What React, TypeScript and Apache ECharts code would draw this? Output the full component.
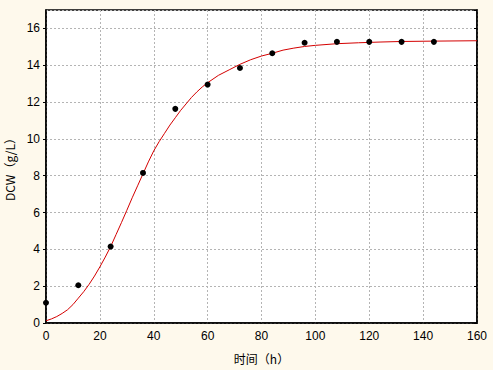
import React, { useEffect, useRef } from "react";
import * as echarts from "echarts";

const timeH = [0, 12, 24, 36, 48, 60, 72, 84, 96, 108, 120, 132, 144];
const dcw = [1.1, 2.05, 4.15, 8.15, 11.63, 12.95, 13.85, 14.65, 15.22, 15.27, 15.27, 15.27, 15.27];

const fitX = [0, 2, 4, 6, 8, 10, 12, 14, 16, 18, 20, 22, 24, 26, 28, 30, 32, 34, 36, 38, 40, 42, 44, 46, 48, 50, 52, 54, 56, 58, 60, 64, 68, 72, 76, 80, 84, 88, 92, 96, 100, 108, 116, 124, 132, 144, 160];
const fitY = [0.12, 0.22, 0.35, 0.52, 0.72, 1.0, 1.35, 1.7, 2.1, 2.55, 3.05, 3.58, 4.15, 4.8, 5.45, 6.12, 6.8, 7.45, 8.1, 8.75, 9.35, 9.85, 10.3, 10.75, 11.15, 11.55, 11.9, 12.25, 12.55, 12.82, 13.05, 13.45, 13.75, 14.05, 14.3, 14.5, 14.65, 14.82, 14.93, 15.02, 15.08, 15.17, 15.22, 15.26, 15.29, 15.31, 15.33];

const xLabel = "时间（h）";
const yLabel = "DCW（g/L）";

export default function App() {
  const ref = useRef<HTMLDivElement>(null);
  useEffect(() => {
    const chart = echarts.init(ref.current!, null, { renderer: "svg" });
    const font = "Liberation Sans, DejaVu Sans, sans-serif";
    chart.setOption({
      animation: false,
      backgroundColor: "#fef9ec",
      grid: {
        left: 46, top: 10, right: 16, bottom: 47,
        outerBoundsMode: "none",
        containLabel: false,
        show: true, backgroundColor: "#ffffff", borderColor: "#000", borderWidth: 1.5,
      },
      xAxis: {
        type: "value", min: 0, max: 160, interval: 20,
        name: xLabel, nameLocation: "middle", nameGap: 29,
        nameTextStyle: { color: "#000", fontSize: 12, fontFamily: "Noto Sans CJK SC, sans-serif" },
        axisLine: { show: true, lineStyle: { color: "#000", width: 1.5 } },
        axisTick: { show: false },
        axisLabel: { color: "#000", fontSize: 12, fontFamily: font, margin: 7 },
        splitLine: { show: true, lineStyle: { color: "#b4b4b4", type: [2, 2], width: 1 } },
      },
      yAxis: [
        {
          type: "value", min: 0, max: 17, interval: 2,
          name: yLabel, nameLocation: "middle", nameGap: 28,
          nameTextStyle: { color: "#000", fontSize: 12, fontFamily: "Noto Sans CJK SC, sans-serif" },
          axisLine: { show: true, lineStyle: { color: "#000", width: 1.5 } },
          axisTick: { show: true, length: 3, lineStyle: { color: "#000" } },
          axisLabel: { color: "#000", fontSize: 12, fontFamily: font, margin: 6, showMaxLabel: false },
          splitLine: { show: true, lineStyle: { color: "#b4b4b4", type: [2, 2], width: 1 } },
        },
        {
          type: "value", min: 0, max: 17, interval: 2, position: "right",
          axisLine: { show: true, lineStyle: { color: "#000", width: 1.5 } },
          axisTick: { show: true, inside: true, length: 3, lineStyle: { color: "#000" } },
          axisLabel: { show: false },
          splitLine: { show: false },
        },
      ],
      series: [
        {
          type: "line",
          data: fitX.map((x, i) => [x, fitY[i]]),
          smooth: false,
          showSymbol: false,
          lineStyle: { color: "#d40000", width: 1 },
          z: 2,
        },
        {
          type: "scatter",
          data: timeH.map((x, i) => [x, dcw[i]]),
          symbolSize: 6,
          itemStyle: { color: "#000", opacity: 1 },
          z: 3,
        },
      ],
    });
    return () => chart.dispose();
  }, []);
  return <div ref={ref} style={{ width: 493, height: 370, position: "absolute", left: 0, top: 0 }} />;
}
